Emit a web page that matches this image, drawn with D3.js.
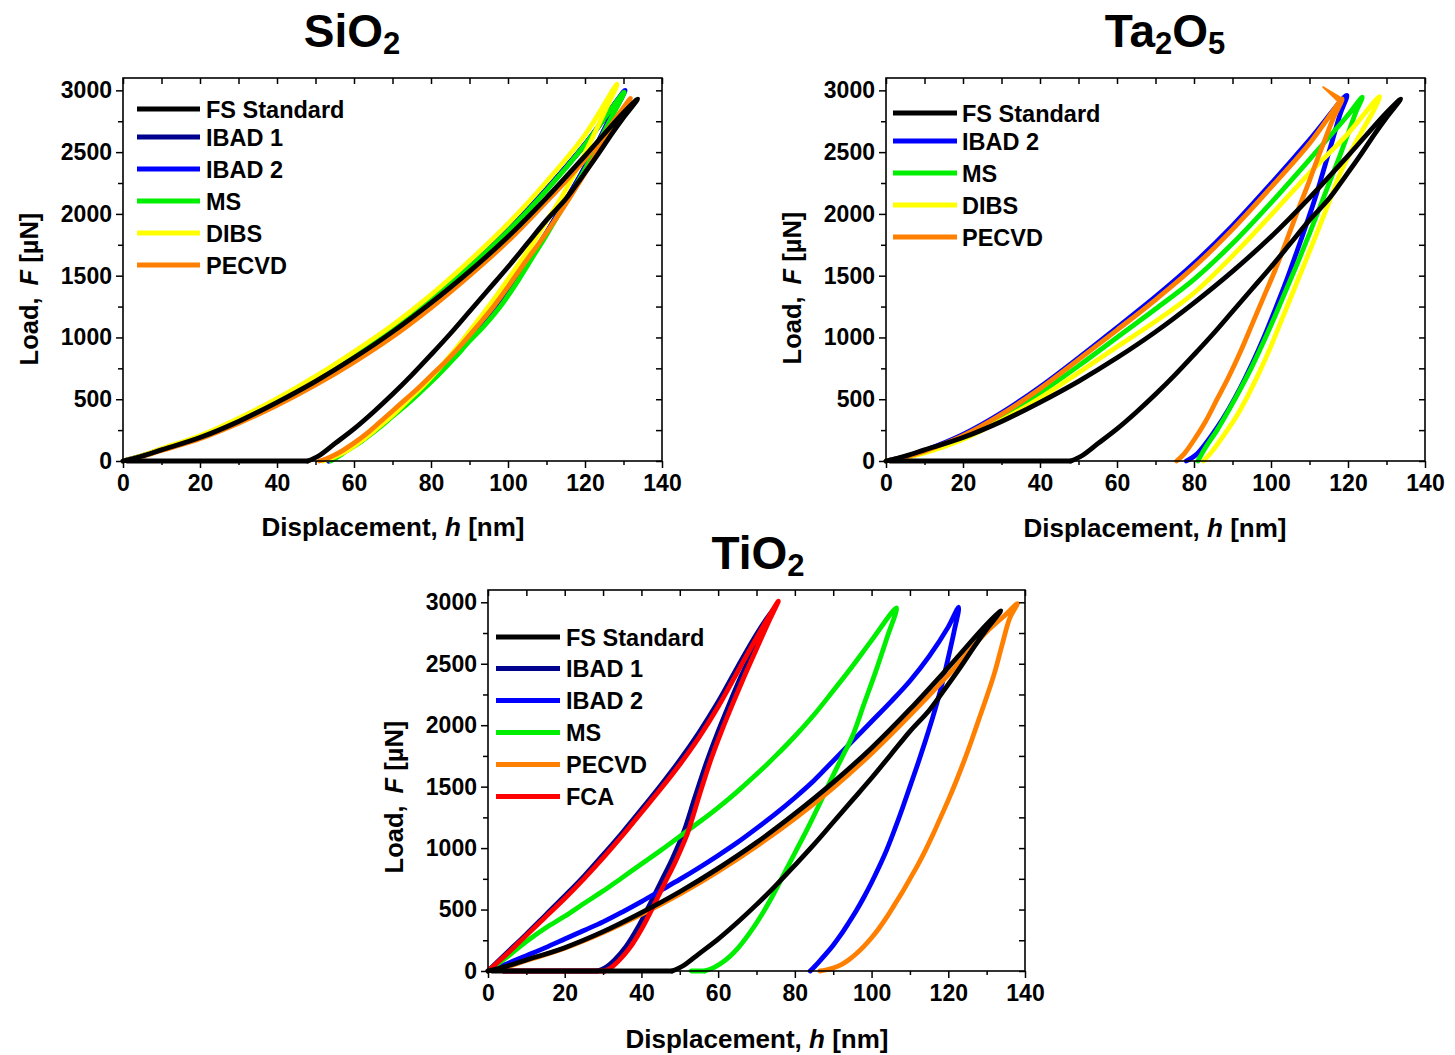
<!DOCTYPE html>
<html><head><meta charset="utf-8">
<script src="https://cdn.jsdelivr.net/npm/d3@7"></script>
<style>
html,body{margin:0;padding:0;background:#fff;}
svg{display:block;font-family:"Liberation Sans",Arial,Helvetica,sans-serif;font-weight:bold;}
</style></head><body>
<svg id="chart" width="1455" height="1055"></svg>
<script>
// ---------- axis ticks ----------
const X_TICKS = [0, 20, 40, 60, 80, 100, 120, 140];
const X_MINOR_TICKS = [10, 30, 50, 70, 90, 110, 130];
const Y_TICKS = [0, 500, 1000, 1500, 2000, 2500, 3000];
const Y_MINOR_TICKS = [250, 750, 1250, 1750, 2250, 2750];
const X_DOMAIN = [0, 140];
const Y_DOMAIN = [0, 3100];

// ---------- series names / colours ----------
const SERIES_NAMES  = ["FS Standard", "IBAD 1", "IBAD 2", "MS", "DIBS", "PECVD", "FCA"];
const SERIES_COLORS = ["#000000", "#00008f", "#0000ff", "#00ee00", "#ffff00", "#ff8000", "#ff0000"];

// ---------- FS Standard reference (h [nm], F [uN]) ----------
const FS_STANDARD_LOAD = [[0,0],[5,40],[10,90],[20,190],[30,320],[40,475],[50,645],[60,835],[70,1045],[80,1280],[90,1535],[100,1815],[110,2130],[120,2470],[130,2820],[133.7,2930]];
const FS_STANDARD_UNLOAD = [[133.7,2930],[130,2780],[127,2650],[123,2465],[119,2290],[115,2120],[110,1950],[105,1760],[100,1570],[95,1390],[90,1210],[85,1030],[80,860],[75,695],[70,540],[65,395],[60,260],[55,140],[51,45],[48,0],[30,0],[10,0],[1,0]];

// ---------- SiO2 ----------
const SIO2_IBAD1_LOAD = [[0,0],[5,42],[10,94],[20,196],[30,330],[40,487],[50,660],[60,855],[70,1070],[80,1310],[90,1580],[100,1870],[110,2200],[120,2560],[130,2975]];
const SIO2_IBAD1_UNLOAD = [[130,2975],[126,2745],[122,2500],[118,2270],[114,2060],[110,1850],[106,1650],[102,1450],[98,1270],[94,1115],[90,985],[86,845],[82,715],[78,595],[74,480],[70,372],[66,265],[62,168],[58,86],[55.5,35],[53.3,0]];
const SIO2_IBAD2_LOAD = [[0,0],[5,42],[10,95],[20,197],[30,331],[40,488],[50,662],[60,857],[70,1072],[80,1312],[90,1582],[100,1873],[110,2203],[120,2565],[130.4,3000]];
const SIO2_IBAD2_UNLOAD = [[130.4,3000],[126,2740],[122,2495],[118,2265],[114,2055],[110,1845],[106,1645],[102,1445],[98,1265],[94,1110],[90,980],[86,840],[82,710],[78,590],[74,475],[70,368],[66,262],[62,165],[58,84],[55.5,33],[53.5,0]];
const SIO2_MS_LOAD = [[0,0],[5,41],[10,93],[20,195],[30,328],[40,485],[50,657],[60,851],[70,1065],[80,1303],[90,1570],[100,1860],[110,2190],[120,2560],[130.2,2985]];
const SIO2_MS_UNLOAD = [[130.2,2985],[126,2730],[122,2480],[118,2250],[114,2040],[110,1830],[106,1630],[102,1430],[98,1250],[94,1100],[90,970],[86,830],[82,700],[78,580],[74,465],[70,360],[66,255],[62,160],[58,80],[56,38],[54,0]];
const SIO2_DIBS_LOAD = [[0,0],[5,45],[10,100],[20,205],[30,345],[40,505],[50,685],[60,885],[70,1100],[80,1345],[90,1620],[100,1920],[110,2260],[120,2640],[128.3,3050]];
const SIO2_DIBS_UNLOAD = [[128.3,3050],[125,2820],[122,2620],[118,2370],[114,2140],[110,1940],[106,1740],[102,1560],[98,1380],[94,1210],[90,1050],[86,890],[82,745],[78,610],[74,490],[70,370],[66,265],[62,165],[58,80],[55,35],[52,0]];
const SIO2_PECVD_LOAD = [[0,0],[5,36],[10,85],[20,180],[30,305],[40,450],[50,615],[60,800],[70,1005],[80,1240],[90,1500],[100,1780],[110,2100],[120,2440],[131.8,2935]];
const SIO2_PECVD_UNLOAD = [[131.8,2935],[128,2750],[124,2550],[120,2330],[116,2130],[112,1940],[108,1760],[104,1590],[100,1410],[96,1240],[92,1090],[88,945],[84,810],[80,690],[76,570],[72,460],[68,350],[64,240],[60,145],[56,65],[53,20],[51,0]];

// ---------- Ta2O5 ----------
const TA2O5_IBAD2_LOAD = [[0,0],[5,35],[10,85],[20,215],[30,390],[40,600],[50,835],[60,1080],[70,1330],[80,1600],[90,1905],[100,2245],[110,2600],[119.7,2960]];
const TA2O5_IBAD2_UNLOAD = [[119.7,2960],[118,2810],[116,2600],[114,2390],[112,2180],[110,1990],[107,1720],[104,1460],[101,1220],[98,990],[95,780],[92,590],[89,420],[86,270],[83,140],[80.5,50],[78,0]];
const TA2O5_MS_LOAD = [[0,0],[5,30],[10,72],[20,190],[30,355],[40,550],[50,770],[60,1000],[70,1230],[80,1470],[90,1760],[100,2090],[110,2440],[120,2800],[123.7,2945]];
const TA2O5_MS_UNLOAD = [[123.7,2945],[122,2820],[120,2650],[118,2480],[116,2320],[113,2080],[110,1840],[107,1610],[104,1390],[101,1170],[98,960],[95,760],[92,580],[89,410],[86,250],[83,110],[81,0]];
const TA2O5_DIBS_LOAD = [[0,0],[5,28],[10,65],[20,175],[30,330],[40,510],[50,715],[60,925],[70,1130],[80,1360],[90,1660],[100,1990],[110,2330],[120,2650],[128.2,2950]];
const TA2O5_DIBS_UNLOAD = [[128.2,2950],[126.7,2840],[124,2690],[121,2520],[118,2330],[115,2090],[112,1850],[109,1620],[106,1390],[103,1160],[100,930],[97,720],[94,530],[91,360],[88,220],[85,90],[82.5,0]];
const TA2O5_PECVD_LOAD = [[0,0],[5,33],[10,80],[20,205],[30,378],[40,585],[50,820],[60,1060],[70,1305],[80,1570],[90,1875],[100,2215],[110,2570],[118.5,2930]];
const TA2O5_PECVD_UNLOAD = [[118.5,2930],[116,2760],[114,2600],[112,2440],[110,2270],[107,2030],[104,1780],[101,1540],[98,1320],[95,1100],[92,880],[89,680],[86,500],[83,320],[80,170],[77.5,60],[75.5,0]];
const TA2O5_PECVD_SPIKE = [[117.6,2905],[113.4,3030],[118.5,2935]];

// ---------- TiO2 ----------
const TIO2_IBAD1_LOAD = [[0,0],[5,150],[10,300],[15,455],[20,610],[25,770],[30,945],[35,1125],[40,1315],[45,1510],[50,1715],[55,1940],[60,2190],[65,2470],[70,2740],[74.5,2950]];
const TIO2_IBAD1_UNLOAD = [[74.5,2950],[72,2810],[69,2600],[66,2400],[63,2180],[60,1950],[57,1700],[54,1420],[51,1130],[48,910],[45,720],[42,530],[39,350],[36,200],[33,90],[30.5,25],[28.5,0],[16,0],[4,0]];
const TIO2_IBAD2_LOAD = [[0,0],[5,60],[10,125],[15,190],[20,260],[25,330],[30,400],[35,480],[40,565],[45,655],[50,745],[55,840],[60,940],[65,1045],[70,1160],[75,1280],[80,1410],[85,1550],[90,1710],[95,1870],[100,2030],[105,2190],[110,2360],[115,2560],[120,2800],[122.7,2960]];
const TIO2_IBAD2_UNLOAD = [[122.7,2960],[121.5,2760],[120,2550],[118,2290],[116,2070],[114,1870],[112,1680],[110,1500],[108,1320],[106,1150],[104,990],[102,850],[100,720],[98,600],[96,490],[94,390],[92,295],[90,210],[88,135],[86,65],[84,0]];
const TIO2_MS_LOAD = [[0,0],[5,115],[10,240],[15,350],[20,445],[25,550],[30,650],[35,760],[40,870],[45,980],[50,1095],[55,1210],[60,1330],[65,1460],[70,1600],[75,1750],[80,1910],[85,2085],[90,2280],[95,2480],[100,2690],[106.5,2955]];
const TIO2_MS_UNLOAD = [[106.5,2955],[104,2710],[101,2430],[98,2170],[95,1910],[92,1720],[89,1530],[86,1330],[83,1140],[80,960],[77,780],[74,600],[71,440],[68,300],[65,180],[62,90],[59,30],[56.5,0],[53,0]];
const TIO2_PECVD_LOAD = [[0,0],[5,35],[10,85],[20,185],[30,312],[40,460],[50,625],[60,810],[70,1015],[80,1240],[90,1490],[100,1770],[110,2080],[120,2410],[130,2760],[135,2900],[138,2990]];
const TIO2_PECVD_UNLOAD = [[138,2990],[136,2870],[134,2650],[132,2420],[130,2230],[128,2050],[126,1870],[124,1700],[122,1540],[120,1390],[118,1250],[116,1110],[114,980],[112,860],[110,750],[108,640],[106,540],[104,440],[102,350],[100,270],[98,200],[96,140],[94,90],[92,50],[90,25],[88,8],[86.5,0]];
const TIO2_FCA_LOAD = [[0,0],[5,140],[10,290],[15,440],[20,590],[25,750],[30,920],[35,1100],[40,1290],[45,1480],[50,1680],[55,1900],[60,2150],[65,2430],[70,2710],[75.7,3010]];
const TIO2_FCA_UNLOAD = [[75.7,3010],[73,2830],[70,2620],[67,2410],[64,2190],[61,1960],[58,1710],[55,1420],[52,1120],[49,900],[46,710],[43,520],[40,340],[37,190],[34,80],[32,25],[30.5,0],[18,0],[4,0]];

// ---------- panel tables (built from the arrays above) ----------
const SIO2_LEGEND = ["FS Standard", "IBAD 1", "IBAD 2", "MS", "DIBS", "PECVD"];
const TA2O5_LEGEND = ["FS Standard", "IBAD 2", "MS", "DIBS", "PECVD"];
const TIO2_LEGEND = ["FS Standard", "IBAD 1", "IBAD 2", "MS", "PECVD", "FCA"];

const SIO2_CURVES = [
  ["IBAD 1", SIO2_IBAD1_LOAD, SIO2_IBAD1_UNLOAD],
  ["IBAD 2", SIO2_IBAD2_LOAD, SIO2_IBAD2_UNLOAD],
  ["MS", SIO2_MS_LOAD, SIO2_MS_UNLOAD],
  ["DIBS", SIO2_DIBS_LOAD, SIO2_DIBS_UNLOAD],
  ["PECVD", SIO2_PECVD_LOAD, SIO2_PECVD_UNLOAD],
  ["FS Standard", FS_STANDARD_LOAD, FS_STANDARD_UNLOAD]
];
const TA2O5_CURVES = [
  ["IBAD 2", TA2O5_IBAD2_LOAD, TA2O5_IBAD2_UNLOAD],
  ["MS", TA2O5_MS_LOAD, TA2O5_MS_UNLOAD],
  ["DIBS", TA2O5_DIBS_LOAD, TA2O5_DIBS_UNLOAD],
  ["PECVD", TA2O5_PECVD_LOAD, TA2O5_PECVD_UNLOAD, TA2O5_PECVD_SPIKE],
  ["FS Standard", FS_STANDARD_LOAD, FS_STANDARD_UNLOAD]
];
const TIO2_CURVES = [
  ["IBAD 1", TIO2_IBAD1_LOAD, TIO2_IBAD1_UNLOAD],
  ["IBAD 2", TIO2_IBAD2_LOAD, TIO2_IBAD2_UNLOAD],
  ["MS", TIO2_MS_LOAD, TIO2_MS_UNLOAD],
  ["PECVD", TIO2_PECVD_LOAD, TIO2_PECVD_UNLOAD],
  ["FCA", TIO2_FCA_LOAD, TIO2_FCA_UNLOAD],
  ["FS Standard", FS_STANDARD_LOAD, FS_STANDARD_UNLOAD]
];

// title parts: [text, isSubscript]
const SIO2_TITLE = [["SiO", false], ["2", true]];
const TA2O5_TITLE = [["Ta", false], ["2", true], ["O", false], ["5", true]];
const TIO2_TITLE = [["TiO", false], ["2", true]];

// ---------- layout ----------
const PANELS = [
  {title: SIO2_TITLE, curves: SIO2_CURVES, legend: SIO2_LEGEND,
   left: 123, right: 662, top: 78, bottom: 461, titleX: 352, titleY: 47,
   lg: {x1: 137, x2: 200, tx: 206, y0: 109, gap1: 28, step: 32},
   xt: [393, 536], yt: [38, 289]},
  {title: TA2O5_TITLE, curves: TA2O5_CURVES, legend: TA2O5_LEGEND,
   left: 886, right: 1425, top: 78, bottom: 461, titleX: 1165, titleY: 47,
   lg: {x1: 893, x2: 957, tx: 962, y0: 113, gap1: 28, step: 32},
   xt: [1155, 537], yt: [801, 288]},
  {title: TIO2_TITLE, curves: TIO2_CURVES, legend: TIO2_LEGEND,
   left: 488, right: 1025, top: 590, bottom: 971, titleX: 758, titleY: 569,
   lg: {x1: 496, x2: 560, tx: 566, y0: 637, gap1: 31.5, step: 32},
   xt: [757, 1048], yt: [403, 797]}
];

const colorOf = d3.scaleOrdinal().domain(SERIES_NAMES).range(SERIES_COLORS);
const svg = d3.select("#chart");

PANELS.forEach(p => {
  const x = d3.scaleLinear().domain(X_DOMAIN).range([p.left, p.right]);
  const y = d3.scaleLinear().domain(Y_DOMAIN).range([p.bottom, p.top]);
  const g = svg.append("g");

  // curves: smooth loading/unloading, straight zero-load tail and spikes
  const smooth = d3.line().x(d => x(d[0])).y(d => y(d[1])).curve(d3.curveCatmullRom.alpha(0.5));
  const straight = d3.line().x(d => x(d[0])).y(d => y(d[1]));
  p.curves.forEach(([name, load, unload, spike]) => {
    const z = unload.findIndex(d => d[1] === 0);
    const main = load.concat(unload.slice(1, z + 1));
    const tail = unload.slice(z);
    const col = colorOf(name);
    const draw = d => g.append("path").attr("d", d).attr("fill", "none").attr("stroke", col)
      .attr("stroke-width", 4.8).attr("stroke-linejoin", "round").attr("stroke-linecap", "round");
    draw(smooth(main));
    if (tail.length > 1) draw(straight(tail));
    if (spike) g.append("path").attr("d", straight(spike) + "Z").attr("fill", col)
      .attr("stroke", col).attr("stroke-width", 1.5).attr("stroke-linejoin", "miter");
  });

  // axes
  const styleAxis = sel => {
    sel.select(".domain").remove();
    sel.selectAll(".tick line").attr("stroke", "#000").attr("stroke-width", 1.5);
    sel.selectAll("text").attr("fill", "#000").style("font-size", "23px")
      .style("font-weight", "bold").style("font-family", "'Liberation Sans', Arial, sans-serif");
  };
  g.append("g").attr("transform", `translate(0,${p.bottom})`)
    .call(d3.axisBottom(x).tickValues(X_TICKS).tickSize(7).tickPadding(7).tickFormat(d3.format("d"))).call(styleAxis);
  g.append("g").attr("transform", `translate(0,${p.bottom})`)
    .call(d3.axisBottom(x).tickValues(X_MINOR_TICKS).tickSize(4).tickFormat("")).call(styleAxis);
  g.append("g").attr("transform", `translate(${p.left},0)`)
    .call(d3.axisLeft(y).tickValues(Y_TICKS).tickSize(7).tickPadding(4).tickFormat(d3.format("d"))).call(styleAxis);
  g.append("g").attr("transform", `translate(${p.left},0)`)
    .call(d3.axisLeft(y).tickValues(Y_MINOR_TICKS).tickSize(5).tickFormat("")).call(styleAxis);
  g.append("g").attr("transform", `translate(0,${p.top})`)
    .call(d3.axisTop(x).tickValues(X_TICKS.concat(X_MINOR_TICKS)).tickSize(-6).tickFormat("")).call(styleAxis);
  g.append("g").attr("transform", `translate(${p.right},0)`)
    .call(d3.axisRight(y).tickValues(Y_TICKS.concat(Y_MINOR_TICKS)).tickSize(-6).tickFormat("")).call(styleAxis);

  // frame
  g.append("rect").attr("x", p.left).attr("y", p.top)
    .attr("width", p.right - p.left).attr("height", p.bottom - p.top)
    .attr("fill", "none").attr("stroke", "#000").attr("stroke-width", 1.6);

  // legend
  p.legend.forEach((name, i) => {
    const ly = i === 0 ? p.lg.y0 : p.lg.y0 + p.lg.gap1 + (i - 1) * p.lg.step;
    g.append("line").attr("x1", p.lg.x1).attr("x2", p.lg.x2).attr("y1", ly).attr("y2", ly)
      .attr("stroke", colorOf(name)).attr("stroke-width", 5);
    g.append("text").attr("x", p.lg.tx).attr("y", ly + 8.5)
      .style("font-size", "23.5px").attr("fill", "#000").text(name);
  });

  // title
  const t = g.append("text").attr("x", p.titleX).attr("y", p.titleY)
    .attr("text-anchor", "middle").attr("fill", "#000");
  let down = false;
  p.title.forEach(([txt, sub]) => {
    const ts = t.append("tspan").text(txt).style("font-size", sub ? "31px" : "46px");
    if (sub && !down) { ts.attr("dy", 7); down = true; }
    else if (!sub && down) { ts.attr("dy", -7); down = false; }
  });

  // x axis title
  const xt = g.append("text").attr("x", p.xt[0]).attr("y", p.xt[1])
    .attr("text-anchor", "middle").style("font-size", "26px").style("white-space", "pre").attr("fill", "#000");
  xt.append("tspan").text("Displacement, ");
  xt.append("tspan").style("font-style", "italic").text("h");
  xt.append("tspan").text(" [nm]");

  // y axis title
  const yt = g.append("text").attr("transform", `translate(${p.yt[0]},${p.yt[1]}) rotate(-90)`)
    .attr("text-anchor", "middle").style("font-size", "25.5px").style("white-space", "pre").attr("fill", "#000");
  yt.append("tspan").text("Load,");
  yt.append("tspan").attr("dx", 12).style("font-style", "italic").text("F");
  yt.append("tspan").text(" [\u00b5N]");
});
</script>
</body></html>
